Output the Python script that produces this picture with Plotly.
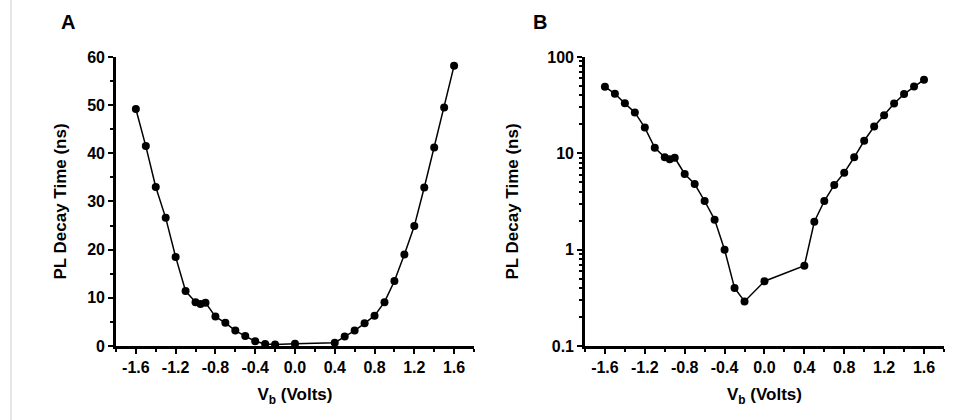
import plotly.graph_objects as go

voltage = [-1.6, -1.5, -1.4, -1.3, -1.2, -1.1, -1.0, -0.95, -0.9, -0.8, -0.7, -0.6,
           -0.5, -0.4, -0.3, -0.2, 0.0, 0.4, 0.5, 0.6, 0.7, 0.8, 0.9, 1.0, 1.1, 1.2,
           1.3, 1.4, 1.5, 1.6]
decay_ns = [49.2, 41.5, 33.0, 26.6, 18.5, 11.4, 9.1, 8.7, 9.0, 6.1, 4.8, 3.2,
            2.05, 1.0, 0.40, 0.29, 0.47, 0.68, 1.95, 3.2, 4.7, 6.3, 9.1, 13.5, 19.0, 24.9,
            32.9, 41.2, 49.5, 58.2]
x_ticks = [-1.6, -1.2, -0.8, -0.4, 0.0, 0.4, 0.8, 1.2, 1.6]

FONT = "Liberation Sans, Arial, sans-serif"

fig = go.Figure()
for xa, ya in (("x", "y"), ("x2", "y2")):
    fig.add_trace(go.Scatter(
        x=voltage, y=decay_ns, xaxis=xa, yaxis=ya, mode="lines+markers",
        line=dict(color="black", width=1.5),
        marker=dict(color="black", size=8),
        showlegend=False, hoverinfo="skip"))

ydom = [0.1762, 0.8643]
tick_font = dict(family=FONT, size=16, color="black", weight="bold")
title_font = dict(family=FONT, size=17, color="black", weight="bold")
common_x = dict(
    range=[-1.8, 1.8], tickvals=x_ticks, ticktext=[f"{v:.1f}" for v in x_ticks],
    showgrid=False, zeroline=False, showline=True, linecolor="black", linewidth=2.5,
    ticks="outside", ticklen=5, tickwidth=2, tickcolor="black", automargin=False,
    minor=dict(ticks="outside", ticklen=3, tickwidth=2, tickcolor="black", dtick=0.2, tick0=0),
    tickfont=tick_font,
    title=dict(text="V<sub>b</sub> (Volts)", font=title_font, standoff=14),
)
common_y = dict(showgrid=False, zeroline=False, showline=True, linecolor="black", linewidth=2.5,
                ticks="outside", ticklen=5, tickwidth=2, tickcolor="black", automargin=False,
                tickfont=tick_font)

fig.update_layout(
    width=956, height=420, margin=dict(l=0, r=0, t=0, b=0),
    paper_bgcolor="white", plot_bgcolor="white",
    xaxis=dict(domain=[0.1213, 0.4958], anchor="y", **common_x),
    xaxis2=dict(domain=[0.6119, 0.9874], anchor="y2", **common_x),
    yaxis=dict(domain=ydom, anchor="x", range=[0, 60], dtick=10,
               minor=dict(ticks="outside", ticklen=3, tickwidth=2, tickcolor="black", dtick=5),
               title=dict(text="PL Decay Time (ns)", font=title_font, standoff=17), **common_y),
    yaxis2=dict(domain=ydom, anchor="x2", type="log", range=[-1, 2], dtick=1,
                minor=dict(ticks="outside", ticklen=3, tickwidth=1.5, tickcolor="black", dtick="D1"),
                title=dict(text="PL Decay Time (ns)", font=title_font, standoff=25), **common_y),
    annotations=[
        dict(text="A", x=68 / 956, y=1 - 22 / 420, xref="paper", yref="paper", showarrow=False,
             xanchor="center", yanchor="middle",
             font=dict(family=FONT, size=20, color="black", weight="bold")),
        dict(text="B", x=540 / 956, y=1 - 22 / 420, xref="paper", yref="paper", showarrow=False,
             xanchor="center", yanchor="middle",
             font=dict(family=FONT, size=20, color="black", weight="bold")),
    ],
    shapes=[dict(type="line", xref="paper", yref="paper", x0=11 / 956, x1=11 / 956, y0=0, y1=1,
                 line=dict(color="#cccccc", width=1))],
)

fig.write_html("out.html")
